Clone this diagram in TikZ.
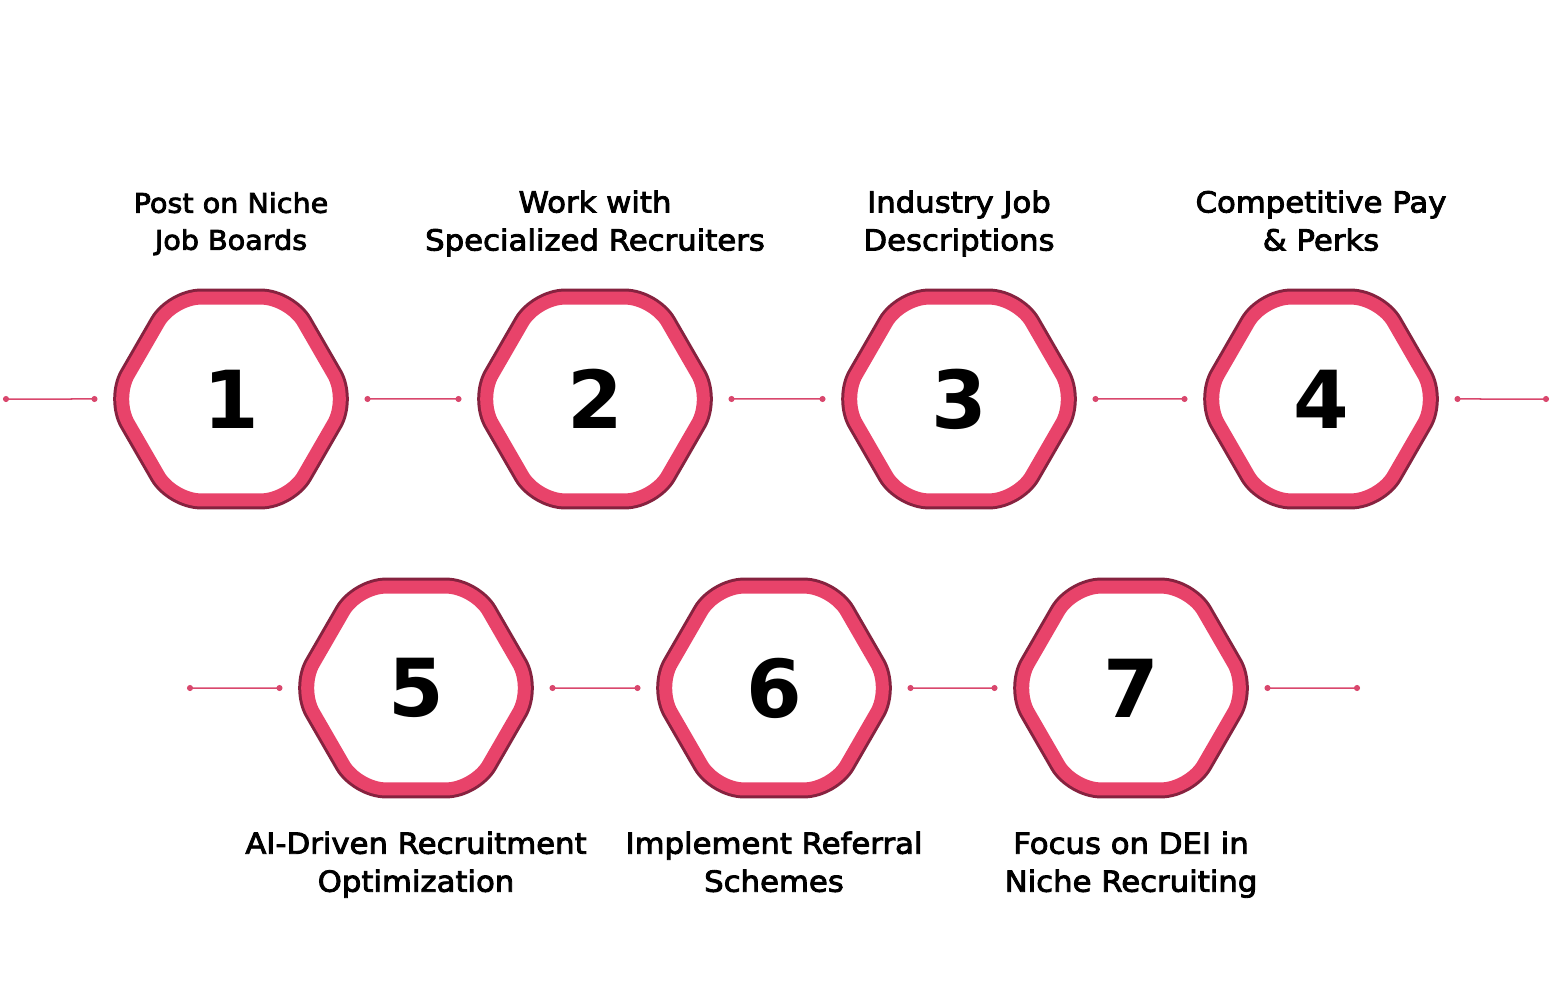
\documentclass[tikz,border=0pt]{standalone}
\usepackage{fontspec}
\setmainfont{DejaVu Sans}
\newfontfamily\labelfont{DejaVu Sans}[FakeStretch=1.06, RawFeature={embolden=3}]
\usepackage{tikz}
\usetikzlibrary{arrows.meta, shapes.geometric, positioning}
\definecolor{hexpink}{HTML}{E8436A}
\definecolor{hexdark}{HTML}{86223F}
\definecolor{linkpink}{HTML}{D9476D}

\begin{document}
\begin{tikzpicture}[x=1pt, y=-1pt,
  hexa/.style = {regular polygon, regular polygon sides=6,
        minimum size=233pt, inner sep=0pt, outer sep=0pt,
        rounded corners=28pt, fill=white, draw=hexpink, line width=13pt,
        preaction={draw=hexdark, line width=19pt},
        font=\fontsize{80}{80}\selectfont\bfseries},
  step label/.style = {align=center, inner sep=0pt,
        font=\fontsize{29}{38}\labelfont},
  link/.style = {draw=linkpink, line width=1.5pt,
        {Circle[length=6pt]}-{Circle[length=6pt]}}]
 \useasboundingbox[fill=white] (0,0) rectangle (1552,1008);

 % first row
 \node[hexa] (h1) at (231,399)  {1};
 \node[hexa] (h2) at (595,399)  {2};
 \node[hexa] (h3) at (959,399)  {3};
 \node[hexa] (h4) at (1321,399) {4};
 % second row
 \node[hexa] (h5) at (416,688)  {5};
 \node[hexa] (h6) at (774,688)  {6};
 \node[hexa] (h7) at (1131,688) {7};

 \node[step label, above=37pt of h1, font=\fontsize{27}{37}\labelfont]
   {Post on Niche\\Job Boards\strut};
 \node[step label, above=36pt of h2] {Work with\\Specialized Recruiters\strut};
 \node[step label, above=36pt of h3] {Industry Job\\Descriptions\strut};
 \node[step label, above=36pt of h4] {Competitive Pay\\\& Perks\strut};

 \node[step label, below=38pt of h5] {\strut AI-Driven Recruitment\\Optimization};
 \node[step label, below=38pt of h6] {\strut Implement Referral\\Schemes};
 \node[step label, below=38pt of h7] {\strut Focus on DEI in\\Niche Recruiting};

 \coordinate (l1) at (3,399);
 \coordinate (r4) at (1549,399);
 \coordinate (l5) at (187,688);
 \coordinate (r7) at (1360,688);

 \path[link] (l1) -- ([xshift=-17pt]h1.west);
 \path[link] ([xshift=17pt]h1.east) -- ([xshift=-17pt]h2.west);
 \path[link] ([xshift=17pt]h2.east) -- ([xshift=-17pt]h3.west);
 \path[link] ([xshift=17pt]h3.east) -- ([xshift=-17pt]h4.west);
 \path[link] ([xshift=17pt]h4.east) -- (r4);

 \path[link] (l5) -- ([xshift=-17pt]h5.west);
 \path[link] ([xshift=17pt]h5.east) -- ([xshift=-17pt]h6.west);
 \path[link] ([xshift=17pt]h6.east) -- ([xshift=-17pt]h7.west);
 \path[link] ([xshift=17pt]h7.east) -- (r7);
\end{tikzpicture}
\end{document}
